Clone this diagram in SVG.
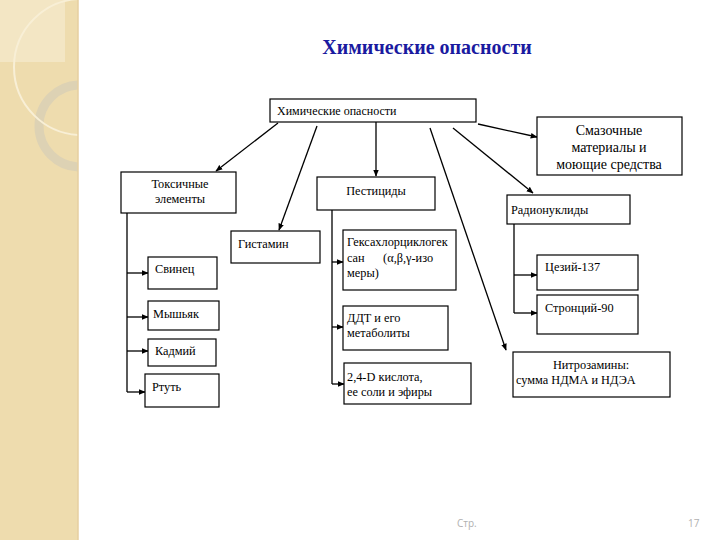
<svg xmlns="http://www.w3.org/2000/svg" width="720" height="540" viewBox="0 0 720 540">
<style>
.box{fill:#fff;stroke:#000;stroke-width:1.2}
.t{font-family:"Liberation Serif","DejaVu Serif","Times New Roman",serif;font-size:12.3px;fill:#000}
.big{font-size:14px}
.c{text-anchor:middle}
.ln{stroke:#000;stroke-width:1.3;fill:none}
.ar{marker-end:url(#ah)}
.foot{font-family:"Open Sans","Liberation Sans",sans-serif;font-size:10px;fill:#b0b0b0}
</style>
<defs>
<marker id="ah" viewBox="0 0 10 10" refX="9" refY="5" markerWidth="7" markerHeight="7" markerUnits="userSpaceOnUse" orient="auto">
<path d="M0,1 L10,5 L0,9 z" fill="#000"/>
</marker>
<clipPath id="strip"><rect x="0" y="0" width="78" height="540"/></clipPath>
</defs>
<rect width="720" height="540" fill="#fff"/>
<g id="background">
<rect x="0" y="0" width="78" height="540" fill="#eedcae"/>
<rect x="0" y="0" width="65" height="62" fill="#f3e6c4"/>
<g clip-path="url(#strip)">
<circle cx="80" cy="126" r="41" fill="none" stroke="#ddd2b4" stroke-width="9"/>
<circle cx="82" cy="67" r="68" fill="none" stroke="#f8efd6" stroke-width="2"/>
</g>
<line x1="78" y1="0" x2="78" y2="540" stroke="#e6cfa0" stroke-width="1.5"/>
</g>
<text x="427" y="54" text-anchor="middle" font-family="'Liberation Serif','DejaVu Serif','Times New Roman',serif" font-weight="bold" font-size="20" fill="#1a1aa0">Химические опасности</text>
<g id="connectors">
<line class="ln ar" x1="278" y1="123" x2="216" y2="171"/>
<line class="ln ar" x1="317" y1="126" x2="279" y2="230"/>
<line class="ln ar" x1="376" y1="122" x2="376" y2="176"/>
<line class="ln ar" x1="430" y1="128" x2="506" y2="350"/>
<line class="ln ar" x1="453" y1="128" x2="533" y2="193"/>
<line class="ln ar" x1="478" y1="124" x2="537" y2="137"/>
<polyline class="ln" points="127,213 127,392"/>
<line class="ln ar" x1="127" y1="273" x2="148" y2="273"/>
<line class="ln ar" x1="127" y1="317" x2="148" y2="317"/>
<line class="ln ar" x1="127" y1="351" x2="148" y2="351"/>
<line class="ln ar" x1="127" y1="392" x2="145" y2="392"/>
<polyline class="ln" points="332,210 332,384"/>
<line class="ln ar" x1="332" y1="262" x2="343" y2="262"/>
<line class="ln ar" x1="332" y1="327" x2="343" y2="327"/>
<line class="ln ar" x1="332" y1="384" x2="344" y2="384"/>
<polyline class="ln" points="514,224 514,313"/>
<line class="ln ar" x1="514" y1="275" x2="537" y2="275"/>
<line class="ln ar" x1="514" y1="313" x2="537" y2="313"/>
</g>
<g id="n-root"><rect class="box" x="270" y="99" width="206" height="23"/><text class="t" x="277" y="115" style="font-size:12px">Химические опасности</text></g>
<g id="n-toxic"><rect class="box" x="121" y="172" width="115" height="41"/><text class="t c" x="180" y="188">Токсичные</text><text class="t c" x="180" y="203">элементы</text></g>
<g id="n-pest"><rect class="box" x="317" y="177" width="118" height="33"/><text class="t c" x="376" y="195">Пестициды</text></g>
<g id="n-lube"><rect class="box" x="537" y="117" width="145" height="58"/><text class="t c big" x="609" y="135">Смазочные</text><text class="t c big" x="609" y="152">материалы и</text><text class="t c big" x="609" y="169">моющие средства</text></g>
<g id="n-radio"><rect class="box" x="507" y="195" width="123" height="29"/><text class="t" x="511" y="214">Радионуклиды</text></g>
<g id="n-hist"><rect class="box" x="231" y="231" width="89" height="32"/><text class="t" x="238" y="248">Гистамин</text></g>
<g id="n-pb"><rect class="box" x="148" y="257" width="69" height="32"/><text class="t" x="155" y="273">Свинец</text></g>
<g id="n-as"><rect class="box" x="148" y="301" width="71" height="29"/><text class="t" x="153" y="318">Мышьяк</text></g>
<g id="n-cd"><rect class="box" x="148" y="339" width="68" height="27"/><text class="t" x="155" y="355">Кадмий</text></g>
<g id="n-hg"><rect class="box" x="145" y="374" width="74" height="33"/><text class="t" x="152" y="391">Ртуть</text></g>
<g id="n-hch"><rect class="box" x="343" y="230" width="113" height="60"/><text class="t" x="347" y="246">Гексахлорциклогек</text><text class="t" x="347" y="262" xml:space="preserve">сан      (α,β,γ-изо</text><text class="t" x="347" y="277">меры)</text></g>
<g id="n-ddt"><rect class="box" x="343" y="306" width="105" height="44"/><text class="t" x="347" y="322">ДДТ и его</text><text class="t" x="347" y="337">метаболиты</text></g>
<g id="n-24d"><rect class="box" x="344" y="363" width="127" height="41"/><text class="t" x="347" y="381">2,4-D кислота,</text><text class="t" x="347" y="396">ее соли и эфиры</text></g>
<g id="n-cs"><rect class="box" x="537" y="255" width="101" height="35"/><text class="t" x="545" y="271">Цезий-137</text></g>
<g id="n-sr"><rect class="box" x="537" y="295" width="101" height="39"/><text class="t" x="545" y="312">Стронций-90</text></g>
<g id="n-nitro"><rect class="box" x="513" y="352" width="157" height="45"/><text class="t c" x="591" y="369">Нитрозамины:</text><text class="t" x="516" y="384">сумма НДМА и НДЭА</text></g>
<text class="foot" x="457" y="527">Стр.</text>
<text class="foot" x="688" y="527">17</text>
</svg>
